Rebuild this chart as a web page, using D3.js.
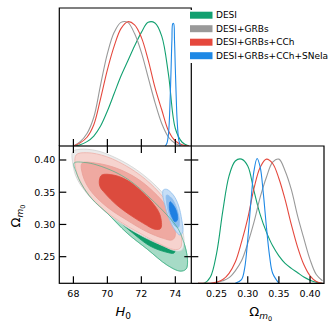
<!DOCTYPE html>
<html>
<head>
<meta charset="utf-8">
<script src="https://cdn.jsdelivr.net/npm/d3@7"></script>
<style>
  body { margin: 0; background: #fff; }
  text { font-family: "DejaVu Sans", sans-serif; }
</style>
</head>
<body>
<div id="chart-area"></div>
<script>
// series
var names = ["DESI", "DESI+GRBs", "DESI+GRBs+CCh", "DESI+GRBs+CCh+SNeIa"];
var lineColors = ["#12a070", "#999999", "#e5483d", "#1e88e5"];

// ticks
var h0Ticks = [68, 70, 72, 74];
var omTicks = [0.25, 0.30, 0.35, 0.40];

// 1D H0 posteriors (peak = 1)
var h0Grid = [68.0, 68.4, 68.8, 69.2, 69.6, 70.0, 70.4, 70.8, 71.2, 71.6, 72.0, 72.4, 72.8, 73.2, 73.6, 74.0, 74.4, 74.8];
var h0Desi = [0.0, 0.01, 0.035, 0.08, 0.16, 0.28, 0.42, 0.56, 0.68, 0.80, 0.91, 0.99, 0.985, 0.88, 0.57, 0.14, 0.03, 0.0];
var h0Grbs = [0.0, 0.035, 0.10, 0.23, 0.49, 0.74, 0.91, 0.99, 0.99, 0.90, 0.75, 0.55, 0.35, 0.18, 0.07, 0.02, 0.0, 0.0];
var h0Cch = [0.0, 0.025, 0.07, 0.17, 0.38, 0.61, 0.80, 0.94, 0.995, 0.97, 0.87, 0.69, 0.47, 0.29, 0.12, 0.04, 0.01, 0.0];
var h0SnGrid = [73.4, 73.5, 73.6, 73.7, 73.75, 73.8, 73.85, 73.9, 73.95, 74.0, 74.05, 74.1, 74.2, 74.3];
var h0Sn = [0.0, 0.02, 0.1, 0.4, 0.62, 0.85, 0.98, 0.98, 0.85, 0.62, 0.4, 0.22, 0.05, 0.0];

// 1D Omega_m0 posteriors (peak = 1)
var omGrid = [0.22, 0.23, 0.24, 0.25, 0.26, 0.27, 0.28, 0.29, 0.30, 0.31, 0.32, 0.33, 0.34, 0.35, 0.36, 0.37, 0.38, 0.39, 0.40, 0.41, 0.42];
var omDesi = [0.0, 0.0, 0.05, 0.24, 0.58, 0.86, 0.98, 0.995, 0.94, 0.74, 0.55, 0.41, 0.30, 0.22, 0.16, 0.12, 0.085, 0.05, 0.025, 0.008, 0.0];
var omGrbs = [0.0, 0.0, 0.0, 0.005, 0.02, 0.045, 0.10, 0.18, 0.32, 0.49, 0.69, 0.85, 0.97, 0.995, 0.90, 0.75, 0.54, 0.36, 0.19, 0.07, 0.02];
var omCch = [0.0, 0.0, 0.0, 0.01, 0.03, 0.08, 0.17, 0.33, 0.52, 0.76, 0.93, 0.995, 0.96, 0.84, 0.67, 0.47, 0.29, 0.15, 0.06, 0.015, 0.0];
var omSnGrid = [0.28, 0.29, 0.295, 0.30, 0.305, 0.31, 0.315, 0.32, 0.325, 0.33, 0.335, 0.34, 0.35];
var omSn = [0.0, 0.03, 0.12, 0.35, 0.65, 0.90, 1.0, 0.93, 0.72, 0.45, 0.22, 0.08, 0.0];

// 2D contours [H0, Omega_m0]
var cDesiOuter = [[68.04, 0.3953], [68.69, 0.3961], [69.39, 0.3922], [70.57, 0.3798], [71.51, 0.3643], [72.51, 0.3410],
  [73.51, 0.3146], [74.10, 0.2960], [74.39, 0.2804], [74.63, 0.2602], [74.72, 0.2416], [74.63, 0.2307], [74.28, 0.2276],
  [73.51, 0.2370], [72.34, 0.2618], [71.16, 0.2866], [69.98, 0.3177], [69.10, 0.3394], [68.51, 0.3612], [68.16, 0.3814]];
var cDesiInner = [[69.86, 0.3503], [70.63, 0.3410], [71.63, 0.3224], [72.63, 0.2991], [73.45, 0.2789], [73.98, 0.2634],
  [73.92, 0.2556], [73.45, 0.2571], [72.51, 0.2665], [71.51, 0.2862], [70.57, 0.3084], [69.92, 0.3301]];
var cGrbsOuter = [[67.96, 0.4129], [68.39, 0.4166], [69.38, 0.4144], [70.55, 0.4026], [71.73, 0.3845], [72.91, 0.3585],
  [73.88, 0.3275], [74.38, 0.2964], [74.51, 0.2707], [74.38, 0.2602], [73.98, 0.2592], [73.29, 0.2665], [72.12, 0.2809],
  [70.94, 0.2991], [69.76, 0.3224], [68.79, 0.3483], [68.20, 0.3716], [67.98, 0.3922]];
var cCchOuter = [[68.16, 0.4078], [68.79, 0.4113], [69.96, 0.4051], [71.34, 0.3871], [72.51, 0.3638], [73.49, 0.3352],
  [74.18, 0.3042], [74.38, 0.2758], [74.28, 0.2629], [73.88, 0.2613], [73.10, 0.2696], [71.92, 0.2862], [70.75, 0.3042],
  [69.57, 0.3275], [68.69, 0.3534], [68.20, 0.3793]];
var cCchMid = [[68.51, 0.3949], [69.38, 0.3949], [70.55, 0.3871], [71.73, 0.3716], [72.71, 0.3508], [73.49, 0.3275],
  [73.92, 0.3017], [73.98, 0.2809], [73.79, 0.2758], [73.29, 0.2784], [72.32, 0.2887], [71.14, 0.3068], [69.96, 0.3275],
  [68.98, 0.3534], [68.55, 0.3767]];
var cCchInner = [[69.53, 0.3689], [69.67, 0.3767], [70.35, 0.3767], [71.14, 0.3689], [71.92, 0.3534], [72.61, 0.3352],
  [73.10, 0.3146], [73.14, 0.2939], [72.81, 0.2924], [72.12, 0.3017], [71.34, 0.3146], [70.55, 0.3301], [69.86, 0.3483],
  [69.57, 0.3585]];
var cSnOuter = [[73.29, 0.3534], [73.49, 0.3545], [73.88, 0.3457], [74.18, 0.3301], [74.38, 0.3068], [74.44, 0.2887],
  [74.28, 0.2835], [73.98, 0.2913], [73.59, 0.3120], [73.39, 0.3301], [73.26, 0.3457]];
var cSnMid = [[73.49, 0.3457], [73.79, 0.3405], [74.08, 0.3250], [74.24, 0.3042], [74.18, 0.2955], [73.92, 0.2991],
  [73.65, 0.3146], [73.49, 0.3328]];
var cSnInner = [[73.69, 0.3352], [73.88, 0.3301], [74.08, 0.3197], [74.12, 0.3068], [73.98, 0.3042], [73.79, 0.3120],
  [73.65, 0.3250]];

var W = 333, H = 332;
var L = 59.3, M = 191.3, R = 324, T = 8, MY = 146, B = 283.3;
var TL = 7;

var svg = d3.select("#chart-area").append("svg")
    .attr("width", W)
    .attr("height", H);

var xH = d3.scaleLinear().domain([67.17, 74.94]).range([L, M]);
var yOm = d3.scaleLinear().domain([0.2087, 0.4217]).range([B, MY]);
var xOm = d3.scaleLinear().domain([0.2094, 0.4224]).range([M, R]);
var yTop = d3.scaleLinear().domain([0, 1.105]).range([MY, T]);
var yRight = d3.scaleLinear().domain([0, 1.1]).range([B, MY]);

var defs = svg.append("defs");
function clip(id, x, y, w, h) {
    defs.append("clipPath").attr("id", id).append("rect")
        .attr("x", x).attr("y", y).attr("width", w).attr("height", h);
}
clip("cTop", L, T, M - L, MY - T);
clip("c2d", L, MY, M - L, B - MY);
clip("cRight", M, MY, R - M, B - MY);

// 2D panel
var area2d = svg.append("g").attr("clip-path", "url(#c2d)");
var contourLine = d3.line()
    .x(d => xH(d[0]))
    .y(d => yOm(d[1]))
    .curve(d3.curveCatmullRomClosed.alpha(0.5));

function fillContour(pts, fill, stroke) {
    area2d.append("path")
        .attr("d", contourLine(pts))
        .attr("fill", fill)
        .attr("stroke", stroke)
        .attr("stroke-width", 0.8);
}
fillContour(cDesiOuter, "#a6dbc6", "#6cc3a0");
fillContour(cDesiInner, "#109b69", "#109b69");
fillContour(cGrbsOuter, "#ebebeb", "#d2d2d2");
fillContour(cCchOuter, "#f6d3ce", "#eeb0a8");
fillContour(cCchMid, "#efa9a1", "#eaa098");
fillContour(cCchInner, "#dc4b3e", "#dc4b3e");
fillContour(cSnOuter, "#c6def6", "#8fbfee");
fillContour(cSnMid, "#8dbdee", "#8dbdee");
fillContour(cSnInner, "#1f80e2", "#1f80e2");
// DESI outline shows through
area2d.append("path")
    .attr("d", contourLine(cDesiOuter))
    .attr("fill", "none")
    .attr("stroke", "#3fae85")
    .attr("stroke-opacity", 0.8)
    .attr("stroke-width", 0.8);

// 1D curves
function curve(g, xs, ys, xScale, yScale, color) {
    var line = d3.line()
        .x((d, i) => xScale(xs[i]))
        .y(d => yScale(d))
        .curve(d3.curveCatmullRom.alpha(0.5));
    g.append("path")
        .attr("d", line(ys))
        .attr("fill", "none")
        .attr("stroke", color)
        .attr("stroke-width", 1.1);
}
var topG = svg.append("g").attr("clip-path", "url(#cTop)");
curve(topG, h0Grid, h0Desi, xH, yTop, lineColors[0]);
curve(topG, h0Grid, h0Grbs, xH, yTop, lineColors[1]);
curve(topG, h0Grid, h0Cch, xH, yTop, lineColors[2]);
curve(topG, h0SnGrid, h0Sn, xH, yTop, lineColors[3]);

var rightG = svg.append("g").attr("clip-path", "url(#cRight)");
curve(rightG, omGrid, omDesi, xOm, yRight, lineColors[0]);
curve(rightG, omGrid, omGrbs, xOm, yRight, lineColors[1]);
curve(rightG, omGrid, omCch, xOm, yRight, lineColors[2]);
curve(rightG, omSnGrid, omSn, xOm, yRight, lineColors[3]);

// frames
var frame = svg.append("g")
    .attr("fill", "none")
    .attr("stroke", "#000")
    .attr("stroke-width", 1.2);
frame.append("path").attr("d", `M${L},${MY}V${T}H${M}V${MY}`);
frame.append("rect").attr("x", L).attr("y", MY).attr("width", M - L).attr("height", B - MY);
frame.append("path").attr("d", `M${M},${MY}H${R}V${B}H${M}`);

// ticks (all inward)
var ticks = svg.append("g").attr("stroke", "#000").attr("stroke-width", 1.2);
h0Ticks.forEach(v => {
    var x = xH(v);
    ticks.append("line").attr("x1", x).attr("x2", x).attr("y1", MY).attr("y2", MY - TL);
    ticks.append("line").attr("x1", x).attr("x2", x).attr("y1", MY).attr("y2", MY + TL);
    ticks.append("line").attr("x1", x).attr("x2", x).attr("y1", B).attr("y2", B - TL);
});
omTicks.forEach(v => {
    var y = yOm(v);
    ticks.append("line").attr("x1", L).attr("x2", L + TL).attr("y1", y).attr("y2", y);
    ticks.append("line").attr("x1", M).attr("x2", M - TL).attr("y1", y).attr("y2", y);
    ticks.append("line").attr("x1", M).attr("x2", M + TL).attr("y1", y).attr("y2", y);
    var x = xOm(v);
    ticks.append("line").attr("x1", x).attr("x2", x).attr("y1", B).attr("y2", B - TL);
});

// tick labels
var labels = svg.append("g").attr("font-size", 9.5).attr("fill", "#000");
h0Ticks.forEach(v => {
    labels.append("text").attr("x", xH(v)).attr("y", B + 13.5)
        .attr("text-anchor", "middle").text(v);
});
omTicks.forEach(v => {
    labels.append("text").attr("x", L - 4).attr("y", yOm(v)).attr("dy", "0.35em")
        .attr("text-anchor", "end").text(v.toFixed(2));
    labels.append("text").attr("x", xOm(v)).attr("y", B + 13.5)
        .attr("text-anchor", "middle").text(v.toFixed(2));
});

// axis titles
var hl = svg.append("text").attr("x", (L + M) / 2 - 2).attr("y", 316)
    .attr("text-anchor", "middle").attr("font-size", 13);
hl.append("tspan").attr("font-style", "italic").text("H");
hl.append("tspan").attr("font-size", 9).attr("dy", 3).text("0");

function omLabel(g) {
    g.append("tspan").text("Ω");
    g.append("tspan").attr("font-size", 9).attr("font-style", "italic").attr("dy", 3).text("m");
    g.append("tspan").attr("font-size", 6.5).attr("dy", 2).text("0");
}
omLabel(svg.append("text").attr("x", (M + R) / 2 + 3).attr("y", 316)
    .attr("text-anchor", "middle").attr("font-size", 13));
omLabel(svg.append("text").attr("transform", "translate(19.5,216) rotate(-90)")
    .attr("text-anchor", "middle").attr("font-size", 13));

// legend
var legend = svg.append("g");
legend.append("rect").attr("x", 188).attr("y", 10).attr("width", 140).attr("height", 53).attr("fill", "#fff");
names.forEach((n, i) => {
    var y = 15.2 + i * 13.5;
    legend.append("rect").attr("x", 190).attr("y", y - 3.5).attr("width", 22.5).attr("height", 7)
        .attr("fill", lineColors[i]);
    legend.append("text").attr("x", 216).attr("y", y).attr("dy", "0.35em")
        .attr("font-size", 9).text(n);
});
</script>
</body>
</html>
